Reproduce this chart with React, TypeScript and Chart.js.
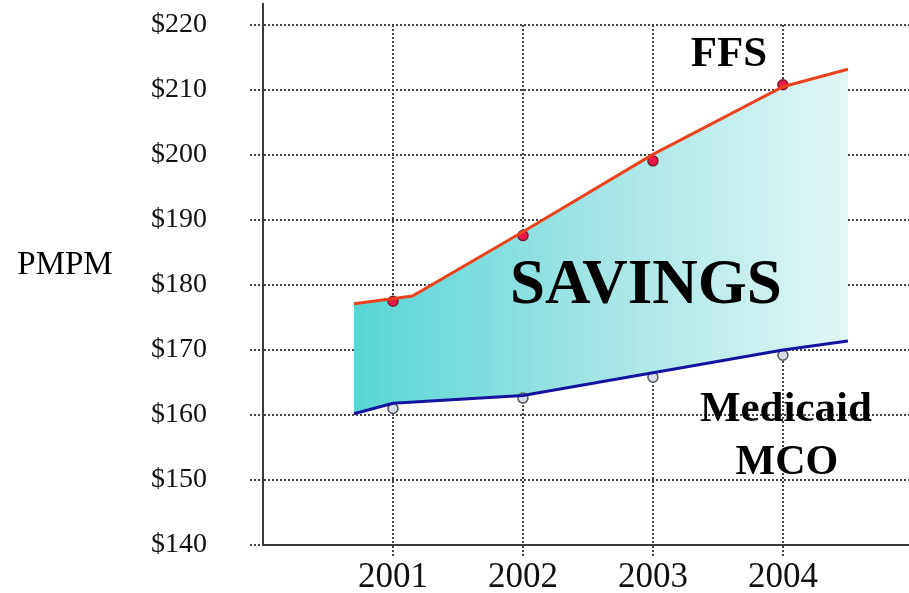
import React, { useEffect, useRef } from "react";
import { Chart, registerables, LineController } from "chart.js";

Chart.register(...registerables);

// Plot area runs to the canvas edge: do not reserve room for point overflow
class EdgeLineController extends (LineController as any) {
  getMaxOverflow() {
    return 0;
  }
}
(EdgeLineController as any).id = "edgeLine";
(EdgeLineController as any).defaults = (LineController as any).defaults;
(EdgeLineController as any).overrides = (LineController as any).overrides;
Chart.register(EdgeLineController as any);

const years = [2001, 2002, 2003, 2004];
const yTicks = [140, 150, 160, 170, 180, 190, 200, 210, 220];

// Dots (reported values)
const ffsDots = [177.5, 187.6, 199.1, 210.8];
const mcoDots = [161.0, 162.6, 165.8, 169.2];

// Trend lines bounding the savings area
const ffsLineX = [2000.7, 2001.15, 2002, 2003, 2004, 2004.5];
const ffsLineY = [177.1, 178.3, 188.2, 200.1, 210.5, 213.2];
const mcoLineX = [2000.7, 2001, 2002, 2003, 2004, 2004.5];
const mcoLineY = [160.2, 161.8, 163.0, 166.5, 170.0, 171.4];

const SERIF = "'Liberation Serif', 'Times New Roman', serif";

export default function App() {
  const ref = useRef<HTMLCanvasElement | null>(null);

  useEffect(() => {
    if (!ref.current) return;
    document.body.style.margin = "0";

    const textPlugin = {
      id: "texts",
      afterDraw(chart: any) {
        const { ctx, scales } = chart;
        const x = scales.x;
        const y = scales.y;
        // extend y axis line upward
        ctx.save();
        ctx.strokeStyle = "#3a3a3a";
        ctx.lineWidth = 2;
        ctx.beginPath();
        ctx.moveTo(chart.chartArea.left, chart.chartArea.top);
        ctx.lineTo(chart.chartArea.left, 3);
        ctx.stroke();
        ctx.restore();

        const draw = (t: string, px: number, py: number, size: number, bold: boolean) => {
          ctx.save();
          ctx.fillStyle = "#000";
          ctx.font = `${bold ? "bold " : ""}${size}px ${SERIF}`;
          ctx.textAlign = "center";
          ctx.textBaseline = "middle";
          ctx.fillText(t, px, py);
          ctx.restore();
        };
        draw("FFS", x.getPixelForValue(2003.585), y.getPixelForValue(215.4), 43, true);
        draw("SAVINGS", x.getPixelForValue(2002.946), y.getPixelForValue(179.7), 63, true);
        draw("Medicaid", x.getPixelForValue(2004.023), y.getPixelForValue(160.8), 43, true);
        draw("MCO", x.getPixelForValue(2004.03), y.getPixelForValue(152.6), 42, true);
        draw("PMPM", 65, y.getPixelForValue(183.1), 33, false);
      },
    };

    const gradientFill = (context: any) => {
      const chart = context.chart;
      const { ctx, chartArea, scales } = chart;
      if (!chartArea || !scales.x) return "rgba(95,216,216,0.8)";
      const x0 = scales.x.getPixelForValue(ffsLineX[0]);
      const x1 = scales.x.getPixelForValue(ffsLineX[ffsLineX.length - 1]);
      const g = ctx.createLinearGradient(x0, 0, x1, 0);
      g.addColorStop(0, "#58d5d5");
      g.addColorStop(0.5, "#a4e5e5");
      g.addColorStop(1, "#e2f6f5");
      return g;
    };

    const chart = new Chart(ref.current, {
      type: "edgeLine" as any,
      data: {
        datasets: [
          {
            label: "FFS line",
            data: ffsLineX.map((v, i) => ({ x: v, y: ffsLineY[i] })),
            borderColor: "#e8431e",
            borderWidth: 3,
            pointRadius: 0,
            pointHoverRadius: 0,
            fill: "+1",
            backgroundColor: gradientFill,
            tension: 0,
          },
          {
            label: "MCO line",
            data: mcoLineX.map((v, i) => ({ x: v, y: mcoLineY[i] })),
            borderColor: "#1414a0",
            borderWidth: 3,
            pointRadius: 0,
            pointHoverRadius: 0,
            fill: false,
            tension: 0,
          },
          {
            label: "FFS",
            data: years.map((v, i) => ({ x: v, y: ffsDots[i] })),
            showLine: false,
            pointRadius: 5,
            pointBackgroundColor: "#e8194a",
            pointBorderColor: "#7a1f30",
            pointBorderWidth: 1.5,
            fill: false,
          },
          {
            label: "Medicaid MCO",
            data: years.map((v, i) => ({ x: v, y: mcoDots[i] })),
            showLine: false,
            pointRadius: 5,
            pointBackgroundColor: "#d6dce8",
            pointBorderColor: "#555",
            pointBorderWidth: 1.5,
            fill: false,
          },
        ],
      },
      options: {
        animation: false,
        responsive: false,
        layout: { padding: { top: 25, left: 0, right: 0, bottom: 0 } },
        plugins: {
          legend: { display: false },
          tooltip: { enabled: false },
          filler: { drawTime: "beforeDatasetsDraw" },
        } as any,
        scales: {
          x: {
            type: "linear",
            min: 2000,
            max: 2004.97,
            afterBuildTicks: (s: any) => {
              s.ticks = years.map((v) => ({ value: v }));
            },
            afterFit: (s: any) => {
              s.height = 48;
              s.paddingLeft = 0;
              s.paddingRight = 0;
            },
            grid: {
              color: "#444",
              lineWidth: 2,
              tickLength: 12,
              tickBorderDash: [2, 2],
            } as any,
            border: { display: true, color: "#3a3a3a", width: 2, dash: [2, 2] },
            ticks: {
              color: "#111",
              font: { family: SERIF, size: 35 },
              padding: 0,
              callback: (v: any) => String(v),
              maxRotation: 0,
              autoSkip: false,
            },
          },
          y: {
            type: "linear",
            min: 140,
            max: 220,
            afterBuildTicks: (s: any) => {
              s.ticks = yTicks.map((v) => ({ value: v }));
            },
            afterFit: (s: any) => {
              s.width = 263;
              s.paddingTop = 0;
              s.paddingBottom = 0;
            },
            grid: {
              color: "#444",
              lineWidth: 2,
              tickLength: 13,
              tickBorderDash: [2, 2],
            } as any,
            border: { display: true, color: "#3a3a3a", width: 2, dash: [2, 2] },
            ticks: {
              color: "#111",
              font: { family: SERIF, size: 28 },
              padding: 43,
              callback: (v: any) => "$" + v,
            },
          },
        },
      },
      plugins: [textPlugin],
    });

    return () => chart.destroy();
  }, []);

  return (
    <div style={{ position: "absolute", left: 0, top: 0, width: 909, height: 593 }}>
      <canvas ref={ref} width={909} height={593} style={{ display: "block" }} />
    </div>
  );
}
